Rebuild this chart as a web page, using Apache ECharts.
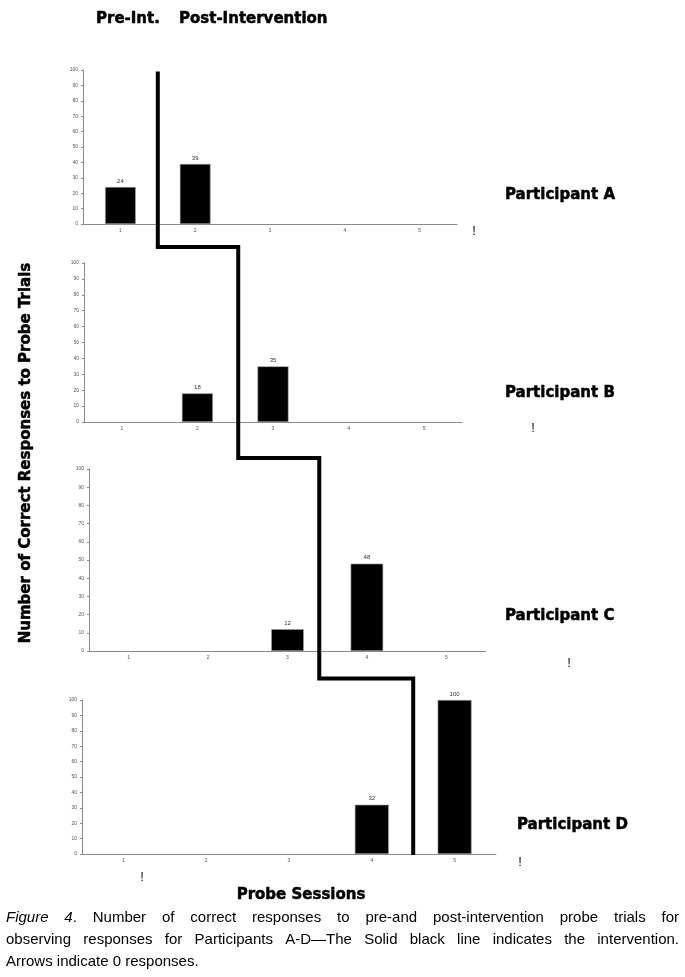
<!DOCTYPE html>
<html>
<head>
<meta charset="utf-8">
<script src="https://cdn.jsdelivr.net/npm/echarts@6/dist/echarts.min.js"></script>
<style>
html,body{margin:0;padding:0;background:#fff;}
#chart{width:685px;height:977px;}
</style>
</head>
<body>
<div id="chart"></div>
<script>
// ---- data ----
const sessions = ['1', '2', '3', '4', '5'];
const participantNames = ['Participant A', 'Participant B', 'Participant C', 'Participant D'];
const valuesA = [24, 39, 0, 0, 0];
const valuesB = [0, 18, 35, 0, 0];
const valuesC = [0, 0, 12, 48, 0];
const valuesD = [0, 0, 0, 32, 100];
const phaseChangeSession = [1.5, 2.54, 3.4, 4.5]; // intervention line between sessions
const yMin = 0, yMax = 100, yInterval = 10;
const headerLabels = ['Pre-Int.', 'Post-Intervention'];
const yTitle = 'Number of Correct Responses to Probe Trials';
const xTitle = 'Probe Sessions';
const captionLine1 = ['Figure', '4.', 'Number', 'of', 'correct', 'responses', 'to', 'pre-and', 'post-intervention', 'probe', 'trials', 'for'];
const captionLine2 = ['observing', 'responses', 'for', 'Participants', 'A-D\u2014The', 'Solid', 'black', 'line', 'indicates', 'the', 'intervention.'];
const captionLine3 = 'Arrows indicate 0 responses.';

const allValues = [valuesA, valuesB, valuesC, valuesD];

// ---- layout ----
const grids = [
  { left: 83, top: 70, width: 374, height: 154 },
  { left: 84, top: 263, width: 378, height: 159 },
  { left: 89, top: 469, width: 397, height: 182 },
  { left: 82, top: 700, width: 414, height: 154 }
];

const chart = echarts.init(document.getElementById('chart'), null, { renderer: 'canvas' });

const axisGrey = '#8a8a8a';
const xAxes = grids.map((g, i) => ({
  type: 'category', gridIndex: i, data: sessions,
  axisLine: { lineStyle: { color: axisGrey, width: 1 } },
  axisTick: { show: false },
  axisLabel: { fontSize: 5, color: '#555', margin: 4, fontFamily: 'Liberation Sans' },
  splitLine: { show: false }
}));
const yAxes = grids.map((g, i) => ({
  type: 'value', gridIndex: i, min: yMin, max: yMax, interval: yInterval,
  axisLine: { show: true, lineStyle: { color: axisGrey, width: 1 } },
  axisTick: { show: true, length: 2, lineStyle: { color: axisGrey } },
  axisLabel: { fontSize: 5, color: '#555', margin: 5, fontFamily: 'Liberation Sans' },
  splitLine: { show: false }
}));
const series = allValues.map((vals, i) => ({
  type: 'bar', xAxisIndex: i, yAxisIndex: i,
  data: vals.map(v => (v > 0 ? v : { value: v, itemStyle: { borderWidth: 0, opacity: 0 } })),
  barWidth: '41%',
  itemStyle: { color: '#000', borderColor: '#a0a0a0', borderWidth: 0.6 },
  label: {
    show: true, position: 'top', distance: 3, fontSize: 6, color: '#333',
    fontFamily: 'Liberation Sans',
    formatter: p => (p.value > 0 ? String(p.value) : '')
  },
  silent: true
}));

chart.setOption({
  animation: false,
  backgroundColor: '#fff',
  grid: grids.map(g => Object.assign({ containLabel: false }, g)),
  xAxis: xAxes,
  yAxis: yAxes,
  series: series
});

// ---- annotations ----
function sessionToPx(gi, s) {
  const idx = s - 1;
  const lo = Math.floor(idx), hi = lo + 1;
  const pLo = chart.convertToPixel({ xAxisIndex: gi }, lo);
  const pHi = chart.convertToPixel({ xAxisIndex: gi }, hi);
  return pLo + (idx - lo) * (pHi - pLo);
}
function valToPx(gi, v) {
  return chart.convertToPixel({ yAxisIndex: gi }, v);
}

const stepX = phaseChangeSession.map((s, i) => sessionToPx(i, s));
const yTop = valToPx(0, 99);
const yStep1 = valToPx(1, 110);
const yStep2 = valToPx(2, 106);
const yStep3 = valToPx(3, 114);
const yBottom = valToPx(3, 0) + 1;
const stepPoints = [
  [stepX[0], yTop], [stepX[0], yStep1],
  [stepX[1], yStep1], [stepX[1], yStep2],
  [stepX[2], yStep2], [stepX[2], yStep3],
  [stepX[3], yStep3], [stepX[3], yBottom]
];

const boldFont = 'DejaVu Sans';
const graphics = [];
graphics.push({
  type: 'polyline', z: 100,
  shape: { points: stepPoints },
  style: { stroke: '#000', lineWidth: 4, fill: null, lineJoin: 'miter' }
});
function boldText(t, x, y, align, rot) {
  return { type: 'text', x: x, y: y, z: 50, rotation: rot || 0,
    style: { text: t, fontFamily: boldFont, fontWeight: 'bold', fontSize: 15, fill: '#000',
      stroke: '#000', lineWidth: 0.5,
      align: align || 'left', verticalAlign: 'middle' } };
}
graphics.push(boldText(headerLabels[0], 96, 19));
graphics.push(boldText(headerLabels[1], 179, 19));
const partPos = [[505, 195], [505, 393], [505, 616], [517, 825]];
participantNames.forEach((n, i) => graphics.push(boldText(n, partPos[i][0], partPos[i][1])));
graphics.push(boldText(xTitle, 301, 895, 'center'));
graphics.push(boldText(yTitle, 26, 453, 'center', Math.PI / 2));

const bangPos = [[474, 231], [533, 428], [569, 663], [520, 862], [142, 877]];
bangPos.forEach(p => graphics.push({ type: 'text', x: p[0], y: p[1], z: 50,
  style: { text: '!', fontFamily: 'Liberation Sans', fontSize: 13, fill: '#111', align: 'center', verticalAlign: 'middle' } }));

// caption, justified
const cFont = 'Liberation Sans';
const cSize = 15;
const mctx = document.createElement('canvas').getContext('2d');
function measure(t, italic) {
  mctx.font = (italic ? 'italic ' : '') + cSize + 'px "' + cFont + '"';
  return mctx.measureText(t).width;
}
const capLeft = 6, capRight = 679;
function wordEl(w, x, y) {
  if (w === 'Figure') {
    return { type: 'text', x: x, y: y, style: { text: w, fontFamily: cFont, fontStyle: 'italic', fontSize: cSize, fill: '#000', verticalAlign: 'middle' } };
  }
  if (w === '4.') {
    return { type: 'text', x: x, y: y, style: { text: '{i|4}.', fontFamily: cFont, fontSize: cSize, fill: '#000', verticalAlign: 'middle',
      rich: { i: { fontFamily: cFont, fontStyle: 'italic', fontSize: cSize, fill: '#000' } } } };
  }
  return { type: 'text', x: x, y: y, style: { text: w, fontFamily: cFont, fontSize: cSize, fill: '#000', verticalAlign: 'middle' } };
}
function wordWidth(w) {
  if (w === 'Figure') return measure(w, true);
  if (w === '4.') return measure('4', true) + measure('.', false);
  return measure(w, false);
}
function justify(words, y) {
  const widths = words.map(wordWidth);
  const total = widths.reduce((a, b) => a + b, 0);
  const gap = (capRight - capLeft - total) / (words.length - 1);
  let x = capLeft;
  words.forEach((w, i) => { graphics.push(wordEl(w, x, y)); x += widths[i] + gap; });
}
justify(captionLine1, 918);
justify(captionLine2, 940);
graphics.push({ type: 'text', x: capLeft, y: 962, style: { text: captionLine3, fontFamily: cFont, fontSize: cSize, fill: '#000', verticalAlign: 'middle' } });

chart.setOption({ graphic: graphics });
</script>
</body>
</html>
